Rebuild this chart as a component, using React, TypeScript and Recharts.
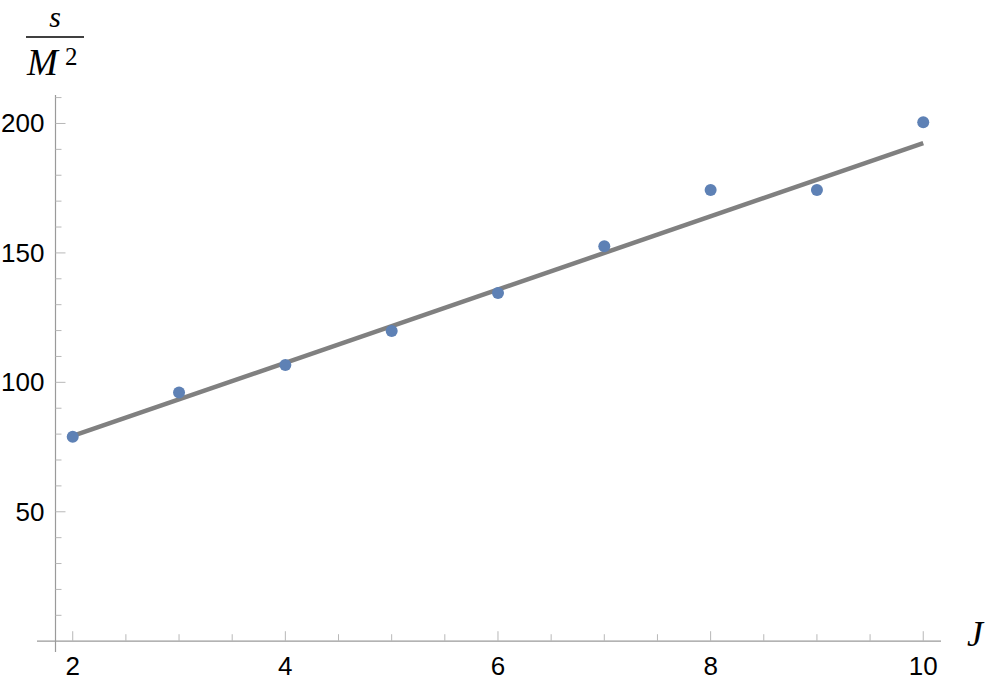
import React from 'react';
import { ComposedChart, XAxis, YAxis, Scatter, Line, ReferenceLine, ReferenceDot } from 'recharts';

// Data points
const xValues = [2, 3, 4, 5, 6, 7, 8, 9, 10];
const yValues = [79.0, 96.1, 106.7, 119.8, 134.5, 152.6, 174.3, 174.3, 200.5];

// Fitted line endpoints
const fitX = [2, 10];
const fitY = [79.3, 192.4];

// Ticks
const xMajorTicks = [2, 4, 6, 8, 10];
const xMinorTicks = [2.5, 3, 3.5, 4.5, 5, 5.5, 6.5, 7, 7.5, 8.5, 9, 9.5];
const yMajorTicks = [50, 100, 150, 200];
const yMinorTicks = [10, 20, 30, 40, 60, 70, 80, 90, 110, 120, 130, 140, 160, 170, 180, 190, 210];

// Axis ranges
const xDomain = [1.664, 10.167];
const yDomain = [-4.17, 211.0];
const yAxisAt = 1.838;

const points = xValues.map((x, i) => ({ x, y: yValues[i] }));
const fitData = fitX.map((x, i) => ({ x, y: fitY[i] }));
const xMajorData = xMajorTicks.map((x) => ({ x, y: 0 }));
const xMinorData = xMinorTicks.map((x) => ({ x, y: 0 }));
const yMajorData = yMajorTicks.map((y) => ({ x: yAxisAt, y }));
const yMinorData = yMinorTicks.map((y) => ({ x: yAxisAt, y }));

const AXIS = '#9a9a9a';
const TICK = '#b8b8b8';
const LABEL_FONT = '"Liberation Sans", Arial, sans-serif';
const MATH_FONT = '"Liberation Serif", "Times New Roman", serif';

const xTickShape = (len: number) => (p: any) => (
  <line x1={p.cx} y1={p.cy} x2={p.cx} y2={p.cy - len} stroke={TICK} strokeWidth={1} />
);
const yTickShape = (len: number) => (p: any) => (
  <line x1={p.cx} y1={p.cy} x2={p.cx + len} y2={p.cy} stroke={TICK} strokeWidth={1} />
);
const dotShape = (p: any) => <circle cx={p.cx} cy={p.cy} r={6} fill="#5e81b5" />;

export default function App() {
  return (
    <div style={{ position: 'absolute', left: 0, top: 0, width: 997, height: 689, background: '#fff' }}>
      <ComposedChart
        width={997}
        height={689}
        margin={{ top: 95, right: 56, bottom: 37, left: 37 }}
      >
        <XAxis type="number" dataKey="x" domain={xDomain} allowDataOverflow hide />
        <YAxis type="number" dataKey="y" domain={yDomain} allowDataOverflow hide />
        <ReferenceLine
          segment={[{ x: xDomain[0], y: 0 }, { x: xDomain[1], y: 0 }]}
          stroke={AXIS}
          strokeWidth={1.2}
          ifOverflow="visible"
        />
        <ReferenceLine
          segment={[{ x: yAxisAt, y: yDomain[0] }, { x: yAxisAt, y: yDomain[1] }]}
          stroke={AXIS}
          strokeWidth={1.2}
          ifOverflow="visible"
        />
        <Scatter data={xMajorData} dataKey="y" shape={xTickShape(10)} isAnimationActive={false} />
        <Scatter data={xMinorData} dataKey="y" shape={xTickShape(7)} isAnimationActive={false} />
        <Scatter data={yMajorData} dataKey="y" shape={yTickShape(10)} isAnimationActive={false} />
        <Scatter data={yMinorData} dataKey="y" shape={yTickShape(6)} isAnimationActive={false} />
        {xMajorTicks.map((v) => (
          <ReferenceDot
            key={'xl' + v}
            x={v}
            y={0}
            ifOverflow="visible"
            shape={(p: any) => (
              <text x={p.cx} y={p.cy + 34} textAnchor="middle" fontSize={26} fontFamily={LABEL_FONT} fill="#000">
                {v}
              </text>
            )}
          />
        ))}
        {yMajorTicks.map((v) => (
          <ReferenceDot
            key={'yl' + v}
            x={yAxisAt}
            y={v}
            ifOverflow="visible"
            shape={(p: any) => (
              <text x={p.cx - 11} y={p.cy + 9} textAnchor="end" fontSize={26} fontFamily={LABEL_FONT} fill="#000">
                {v}
              </text>
            )}
          />
        ))}
        <Scatter data={points} dataKey="y" shape={dotShape} isAnimationActive={false} />
        <Line
          data={fitData}
          dataKey="y"
          stroke="#808080"
          strokeWidth={4.5}
          dot={false}
          activeDot={false}
          isAnimationActive={false}
        />
      </ComposedChart>
      <svg
        width={997}
        height={689}
        style={{ position: 'absolute', left: 0, top: 0, pointerEvents: 'none' }}
      >
        <text x={55} y={27} textAnchor="middle" fontSize={30} fontStyle="italic" fontFamily={MATH_FONT}>s</text>
        <line x1={26} y1={37} x2={84} y2={37} stroke="#000" strokeWidth={1.5} />
        <text x={27} y={75} fontSize={37} fontStyle="italic" fontFamily={MATH_FONT}>M</text>
        <text x={65} y={65} fontSize={25} fontFamily={MATH_FONT}>2</text>
        <text x={967} y={646} fontSize={36} fontStyle="italic" fontFamily={MATH_FONT}>J</text>
      </svg>
    </div>
  );
}
